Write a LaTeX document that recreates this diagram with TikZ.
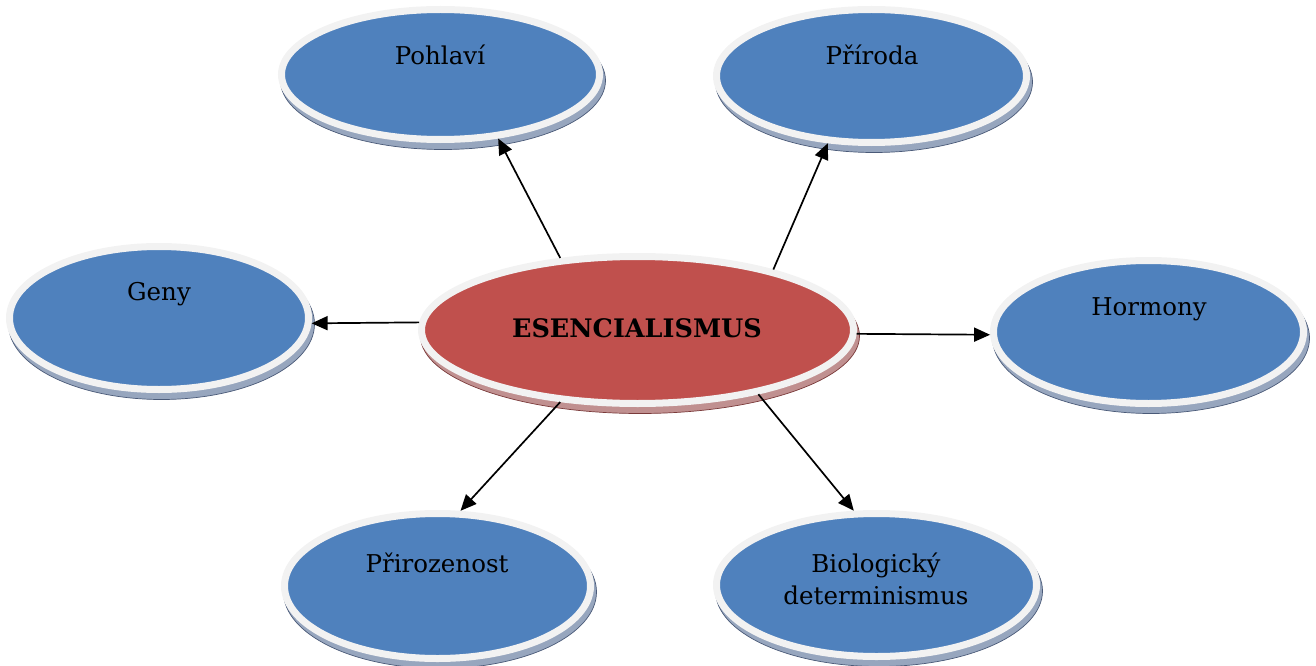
\documentclass[tikz,border=0pt]{standalone}
\usepackage{fontspec}
\setmainfont{DejaVu Serif}
\usetikzlibrary{shapes.geometric,arrows.meta}
\definecolor{bluefill}{HTML}{4F81BD}
\definecolor{redfill}{HTML}{C0504D}
\definecolor{rim}{HTML}{F2F2F2}
\definecolor{blueslab}{HTML}{97A6BE}
\definecolor{blueslabedge}{HTML}{4A5A78}
\definecolor{redslab}{HTML}{C09090}
\definecolor{redslabedge}{HTML}{7A3A3A}
\begin{document}
\begin{tikzpicture}[x=1pt,y=-1pt,
  bubble/.style={ellipse, fill=bluefill, draw=rim, line width=7pt, inner sep=0pt},
  redbubble/.style={bubble, fill=redfill},
  slab/.style={ellipse, fill=blueslab, draw=blueslabedge, line width=0.7pt, inner sep=0pt},
  redslabst/.style={slab, fill=redslab, draw=redslabedge},
  lbl/.style={font=\fontsize{24.5}{32}\selectfont, align=center, inner sep=0pt},
  link/.style={-{Triangle[length=16pt,width=14pt]}, line width=1.7pt}
]
\useasboundingbox (0,0) rectangle (1316,666);
% shadows
\node[slab, minimum width=325, minimum height=138] (Ps) at (443,80.5) {};
\node[slab, minimum width=317, minimum height=141] (Rs) at (874,82) {};
\node[slab, minimum width=306, minimum height=151] (Gs) at (161.5,324) {};
\node[redslabst, minimum width=439, minimum height=155] (Es) at (640,336) {};
\node[slab, minimum width=317, minimum height=151] (Hs) at (1151,338) {};
\node[slab, minimum width=313, minimum height=153] (Zs) at (440,592) {};
\node[slab, minimum width=327, minimum height=151] (Bs) at (879,591) {};
% bubbles
\node[bubble, minimum width=318, minimum height=130] (P) at (440.5,74.5) {};
\node[bubble, minimum width=310, minimum height=133] (R) at (871.5,76) {};
\node[bubble, minimum width=299, minimum height=143] (G) at (159,318) {};
\node[redbubble, minimum width=432, minimum height=147] (E) at (637.5,330) {};
\node[bubble, minimum width=310, minimum height=143] (H) at (1148.5,332) {};
\node[bubble, minimum width=306, minimum height=145] (Z) at (437.5,586) {};
\node[bubble, minimum width=320, minimum height=143] (B) at (876.5,585) {};
% connectors
\draw[link] (E.137) -- (P.-48);
\draw[link] (E.24) -- (R.-123);
\draw[link] (E.178) -- (G.-2);
\draw[link] (E.-1) -- (H.181);
\draw[link] (E.223) -- (Z.73.5);
\draw[link] (E.-28) -- (B.107.6);
% labels
\node[lbl] (tP) at (440,55) {Pohlaví};
\node[lbl] (tR) at (872,55) {Příroda};
\node[lbl] (tG) at (159,294) {Geny};
\node[lbl, font=\fontsize{25.5}{32}\selectfont\bfseries] (tE) at (637,328) {ESENCIALISMUS};
\node[lbl] (tH) at (1149,309) {Hormony};
\node[lbl] (tZ) at (437,563) {Přirozenost};
\node[lbl] (tB) at (876,579) {Biologický\\determinismus};
\end{tikzpicture}
\end{document}
